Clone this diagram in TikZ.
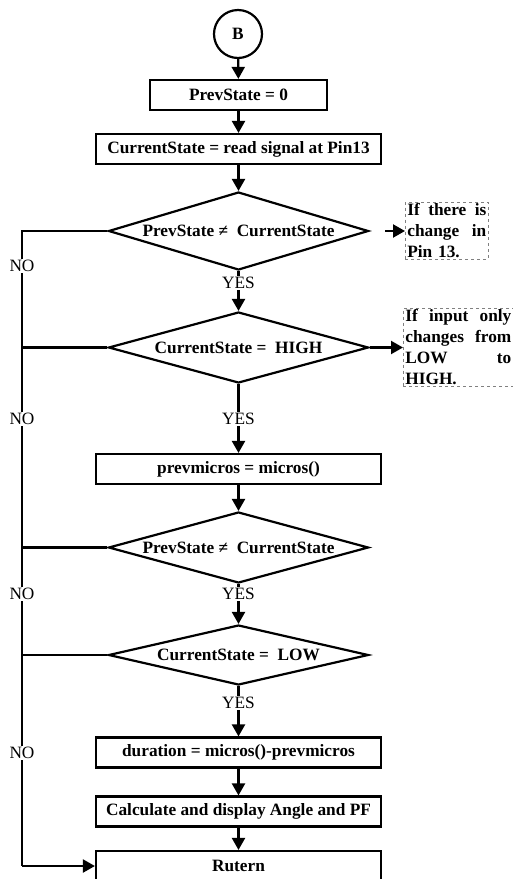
\documentclass[tikz,border=0pt]{standalone}
\usepackage{fontspec}
\setmainfont{Liberation Serif}
\usetikzlibrary{shapes.geometric,arrows.meta}
\newcommand{\dtext}[1]{\raisebox{-0.34em}[0pt][0pt]{\makebox[0pt]{#1}}}
\begin{document}
\begin{tikzpicture}[x=1pt,y=-1pt,
  lw/.style={line width=2.2pt},
  txt/.style={font=\bfseries\fontsize{17.3}{19.6}\selectfont},
  procbox/.style={draw,lw,txt,minimum width=285pt,minimum height=30pt,inner sep=0pt},
  decbox/.style={draw,lw,txt,diamond,minimum width=260pt,inner sep=0pt,aspect=2},
  arr/.style={lw,-{Triangle[length=12pt,width=13pt]}},
  lbl/.style={fill=white,inner sep=1.5pt,font=\fontsize{17.3}{20}\selectfont},
  notebox/.style={draw=gray,dashed,line width=0.7pt,font=\bfseries\fontsize{17.3}{21.1}\selectfont,align=left,inner xsep=2pt,inner ysep=1pt,anchor=north west}
]
\useasboundingbox (0,0) rectangle (513,879);
\node[draw,lw,circle,minimum size=48pt,inner sep=0pt,txt] (B) at (238,34) {B};
\node[procbox,minimum width=177pt] (p0) at (238.5,95) {PrevState = 0};
\node[procbox] (p1) at (238.5,149) {CurrentState = read signal at Pin13};
\node[decbox,minimum height=78pt] (d1) at (238.5,231) {\dtext{PrevState ≠\ \ CurrentState}};
\node[decbox,minimum height=71pt] (d2) at (238.5,347.5) {\dtext{CurrentState =\ \ HIGH}};
\node[procbox] (p2) at (238.5,469) {prevmicros = micros()};
\node[decbox,minimum height=71pt] (d3) at (238.5,547.5) {\dtext{PrevState ≠\ \ CurrentState}};
\node[decbox,minimum height=60pt] (d4) at (238.5,655) {\dtext{CurrentState =\ \ LOW}};
\node[procbox] (p3) at (238.5,752.5) {duration = micros()-prevmicros};
\node[procbox] (p4) at (238.5,811.5) {Calculate and display Angle and PF};
\node[procbox] (p5) at (238.5,866) {Rutern};

\node[notebox,text width=79pt] (n1) at (405,202) {If\hfill there\hfill is\\change\hfill in\\Pin 13.};
\node[notebox,text width=106pt] (n2) at (403,308) {If\hfill input\hfill only\\changes\hfill from\\LOW\hfill to\\HIGH.};

\draw[arr] (B) -- (p0);
\draw[arr] (p0) -- (p1);
\draw[arr] (p1) -- (d1);
\draw[arr] (d1) -- (d2);
\draw[arr] (d2) -- (p2);
\draw[arr] (p2) -- (d3);
\draw[arr] (d3) -- (d4);
\draw[arr] (d4) -- (p3);
\draw[arr] (p3) -- (p4);
\draw[arr] (p4) -- (p5);

\coordinate (n1s) at (385,231);
\draw[arr] (n1s) -- (n1.west |- n1s);
\draw[arr] (d2.east) -- (n2.west |- d2.east);

\coordinate (L1) at (22,231);
\coordinate (Lend) at (22,866);
\draw[lw] (d1.west) -- (L1) -- (Lend);
\draw[arr] (Lend) -- (p5.west);
\draw[lw] (d2.west) -- (d2.west -| L1);
\draw[lw] (d3.west) -- (d3.west -| L1);
\draw[lw] (d4.west) -- (d4.west -| L1);

\node[lbl] (no1) at (22,266) {NO};
\node[lbl] (no2) at (22,419) {NO};
\node[lbl] (no3) at (22,594) {NO};
\node[lbl] (no4) at (22,753) {NO};
\node[lbl] (yes1) at (238.5,283) {YES};
\node[lbl] (yes2) at (238.5,419) {YES};
\node[lbl] (yes3) at (238.5,594) {YES};
\node[lbl] (yes4) at (238.5,703) {YES};
\end{tikzpicture}
\end{document}
